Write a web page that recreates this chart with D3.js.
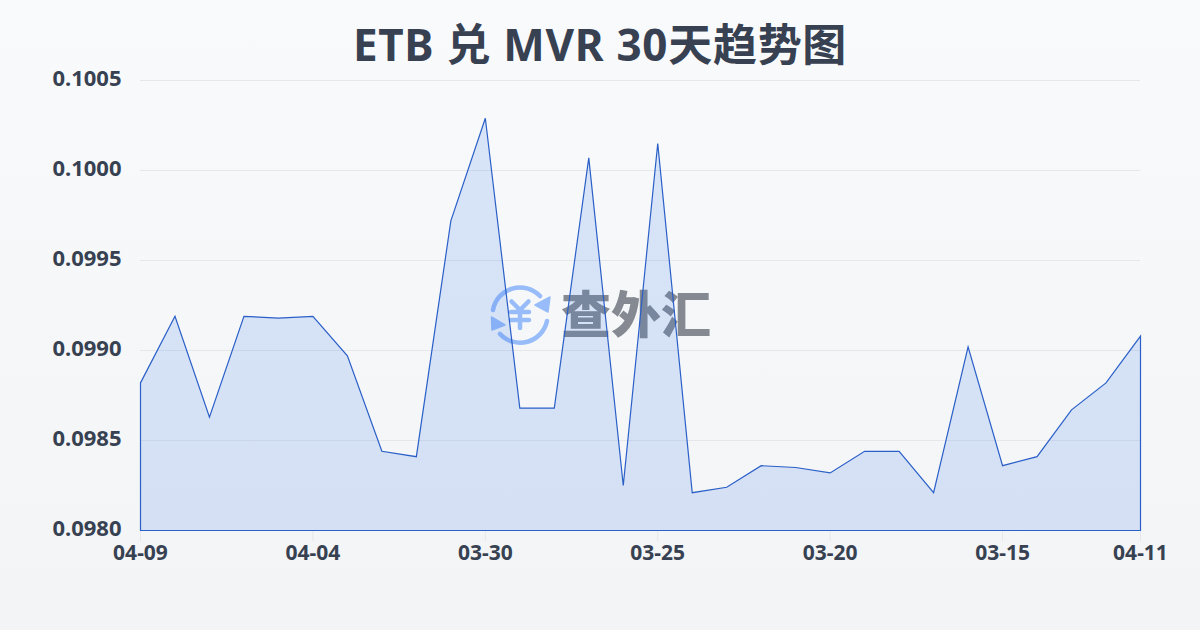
<!DOCTYPE html>
<html><head><meta charset="utf-8">
<script src="https://cdn.jsdelivr.net/npm/d3@7/dist/d3.min.js"></script>
<style>
html,body{margin:0;padding:0;width:1200px;height:630px;overflow:hidden}
svg{display:block}
</style></head><body><svg id="c" width="1200" height="630"></svg>
<script>
const titleText = "ETB 兑 MVR 30天趋势图";
const watermarkText = "查外汇";
const dates = ["04-09","04-08","04-07","04-06","04-05","04-04","04-03","04-02","04-01","03-31","03-30","03-29","03-28","03-27","03-26","03-25","03-24","03-23","03-22","03-21","03-20","03-19","03-18","03-17","03-16","03-15","03-14","03-13","03-12","04-11"];
const rates = [0.09882,0.09919,0.09863,0.09919,0.09918,0.09919,0.09897,0.09844,0.09841,0.09972,0.10029,0.09868,0.09868,0.10007,0.09825,0.10015,0.09821,0.09824,0.09836,0.09835,0.09832,0.09844,0.09844,0.09821,0.09902,0.09836,0.09841,0.09867,0.09882,0.09908];
const yTicks = [0.098,0.0985,0.099,0.0995,0.1,0.1005];
const xTickIdx = [0,5,10,15,20,25,29];
const font = "'Noto Sans','Noto Sans CJK SC',sans-serif";

const svg = d3.select("#c");
const defs = svg.append("defs");
const bg = defs.append("linearGradient").attr("id","bg").attr("x1",0).attr("y1",0).attr("x2",0).attr("y2",1);
bg.append("stop").attr("offset",0).attr("stop-color","#f8fafc");
bg.append("stop").attr("offset",1).attr("stop-color","#f2f4f6");
svg.append("rect").attr("width",1200).attr("height",630).attr("fill","url(#bg)");

const x = d3.scaleLinear().domain([0,dates.length-1]).range([140.5,1140.5]);
const y = d3.scaleLinear().domain([0.098,0.1005]).range([530.5,80.5]);

// grid
svg.append("g").selectAll("line").data(yTicks.slice(1)).join("line")
  .attr("x1",140).attr("x2",1140).attr("y1",d=>y(d)).attr("y2",d=>y(d))
  .attr("stroke","#e5e7eb").attr("stroke-width",1);

// watermark
const wm = svg.append("g").attr("transform","translate(520,315)");
const logo = "#97bcf9";
const stroke = (d,w)=>wm.append("path").attr("d",d).attr("fill","none").attr("stroke",logo).attr("stroke-width",w).attr("stroke-linecap","round").attr("stroke-linejoin","round");
stroke("M-27,-5 A27.5,27.5 0 0 1 20,-19",4.5);
wm.append("path").attr("d","M15,-10 L30,-18 L28,-3 Z").attr("fill",logo).attr("stroke",logo).attr("stroke-width",1.5).attr("stroke-linejoin","round");
stroke("M27,6 A27.5,27.5 0 0 1 -20,19",4.5);
wm.append("path").attr("d","M-28.5,2 L-28,15 L-15,10 Z").attr("fill",logo).attr("stroke",logo).attr("stroke-width",1.5).attr("stroke-linejoin","round");
stroke("M-8.5,-13.5 L0,-5 L8.5,-13.5 M-9,-3 L9,-3 M-9,5 L9,5 M0,-5 L0,13",4.5);
svg.append("text").attr("x",636).attr("y",333).attr("text-anchor","middle")
  .attr("font-family",font).attr("font-weight",900).attr("font-size",50).attr("fill","#858991").text(watermarkText);

// area & line
const area = d3.area().x((d,i)=>x(i)).y0(y(0.098)).y1(d=>y(d));
svg.append("path").datum(rates).attr("d",area).attr("fill","#3b76e6").attr("fill-opacity",.16);
svg.append("path").datum(rates).attr("d",area).attr("fill","none").attr("stroke","#2a5fc8").attr("stroke-width",1.2);

// axes
const xt = svg.append("g").selectAll("g").data(xTickIdx).join("g");
xt.append("line").attr("x1",d=>x(d)).attr("x2",d=>x(d)).attr("y1",531).attr("y2",541).attr("stroke","#e5e7eb");
xt.append("text").attr("x",d=>x(d)).attr("y",560).attr("text-anchor","middle")
  .attr("font-family",font).attr("font-weight",700).attr("font-size",21).attr("fill","#374151").text(d=>dates[d]);
svg.append("g").selectAll("text").data(yTicks).join("text")
  .attr("x",121.5).attr("y",d=>y(d)+5).attr("text-anchor","end")
  .attr("font-family",font).attr("font-weight",700).attr("font-size",22).attr("fill","#374151").text(d=>d.toFixed(4));

svg.append("text").attr("x",600).attr("y",61).attr("text-anchor","middle").attr("letter-spacing",0.7)
  .attr("font-family",font).attr("font-weight",700).attr("font-size",44).attr("fill","#374151").text(titleText);
</script></body></html>
